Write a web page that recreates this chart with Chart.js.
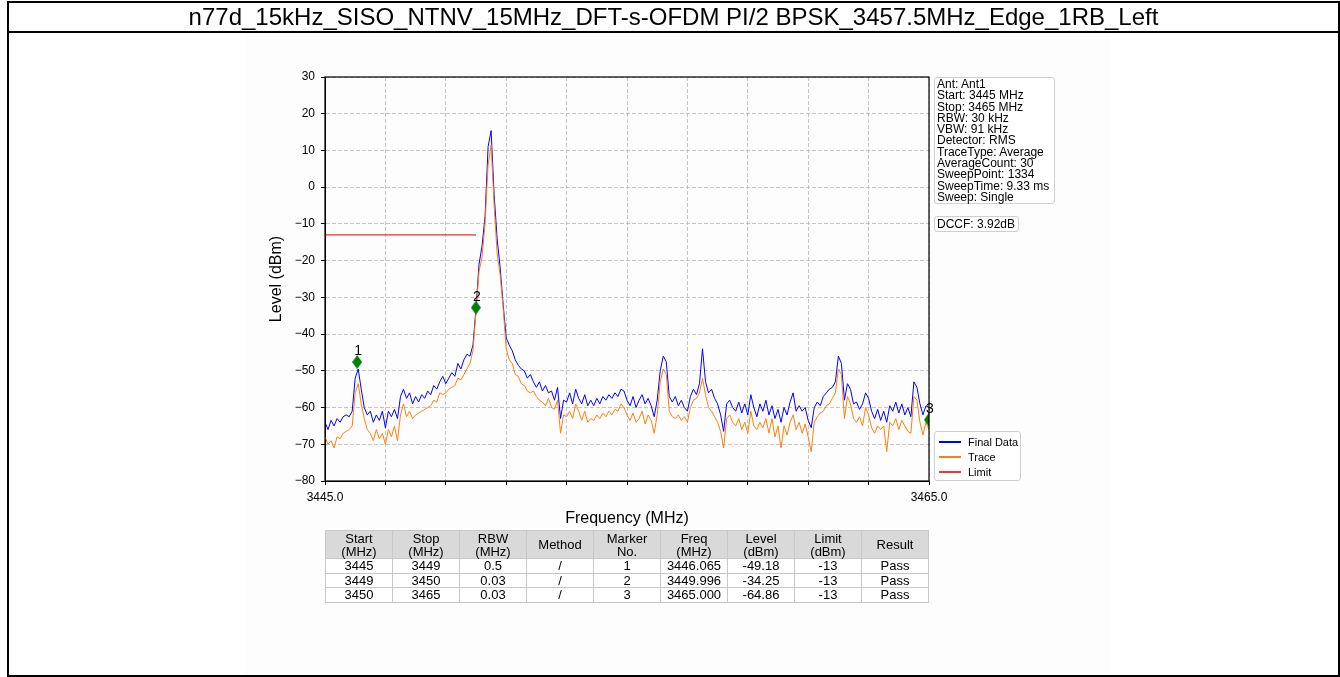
<!DOCTYPE html>
<html><head><meta charset="utf-8">
<script src="https://cdn.jsdelivr.net/npm/chart.js@4.4.1/dist/chart.umd.min.js"></script>
<style>
html,body{margin:0;padding:0;background:#fff;overflow:hidden;}
body{width:1340px;height:677px;position:relative;font-family:"Liberation Sans",Arial,sans-serif;color:#000;}
#imgbg{position:absolute;left:245px;top:33px;width:865px;height:642px;background:#fdfdfd;}
#cv{position:absolute;left:0;top:0;}
.fr{position:absolute;background:#000;}
#title{position:absolute;left:9px;width:1329px;top:3px;height:28px;line-height:28px;text-align:center;font-size:24px;white-space:nowrap;}
.box{position:absolute;border:1px solid #cfcfcf;border-radius:3px;background:#fff;box-sizing:border-box;}
#info{left:934px;top:77px;width:121px;height:127px;font-size:12px;line-height:11.3px;padding:1px 0 0 2px;white-space:pre;}
#dccf{left:934px;top:216px;width:85px;height:16px;font-size:12px;line-height:14px;padding-left:2px;white-space:nowrap;}
#legend{left:934px;top:431px;width:87px;height:50px;font-size:11px;}
.lg{position:absolute;left:4px;height:14px;line-height:14px;white-space:nowrap;}
.lg span{display:inline-block;width:22px;height:1.5px;vertical-align:middle;margin-right:7px;position:relative;top:-1px;}
#tbl{position:absolute;left:325px;top:530px;border-collapse:collapse;font-size:13px;table-layout:fixed;}
#tbl td,#tbl th{border:1px solid #c8c8c8;text-align:center;padding:0;font-weight:normal;width:66px;}
#tbl th{background:#d9d9d9;height:27px;line-height:13px;}
#tbl td{height:13.5px;line-height:13px;background:#fff;}
</style></head>
<body>
<div id="imgbg"></div>
<canvas id="cv" width="1340" height="677"></canvas>
<div class="fr" style="left:7px;top:1px;width:1333px;height:2px"></div>
<div class="fr" style="left:7px;top:31px;width:1333px;height:2px"></div>
<div class="fr" style="left:7px;top:675px;width:1333px;height:2px"></div>
<div class="fr" style="left:7px;top:1px;width:2px;height:676px"></div>
<div class="fr" style="left:1338px;top:1px;width:2px;height:676px"></div>
<div id="title"></div>
<div id="info" class="box"></div>
<div id="dccf" class="box"></div>
<div id="legend" class="box"></div>
<table id="tbl"></table>
<script>
const chartTitle = "n77d_15kHz_SISO_NTNV_15MHz_DFT-s-OFDM PI/2 BPSK_3457.5MHz_Edge_1RB_Left";
const infoLines = ["Ant: Ant1","Start: 3445 MHz","Stop: 3465 MHz","RBW: 30 kHz","VBW: 91 kHz","Detector: RMS","TraceType: Average","AverageCount: 30","SweepPoint: 1334","SweepTime: 9.33 ms","Sweep: Single"];
const dccfText = "DCCF: 3.92dB";

const freqs = [
3445.0,3445.1,3445.2,3445.3,3445.4,3445.5,3445.6,3445.7,3445.8,3445.9,
3446.0,3446.1,3446.2,3446.3,3446.4,3446.5,3446.6,3446.7,3446.8,3446.9,
3447.0,3447.1,3447.2,3447.3,3447.4,3447.5,3447.6,3447.7,3447.8,3447.9,
3448.0,3448.1,3448.2,3448.3,3448.4,3448.5,3448.6,3448.7,3448.8,3448.9,
3449.0,3449.1,3449.2,3449.3,3449.4,3449.5,3449.6,3449.7,3449.8,3449.9,
3450.0,3450.1,3450.2,3450.3,3450.4,3450.5,3450.6,3450.7,3450.8,3450.9,
3451.0,3451.1,3451.2,3451.3,3451.4,3451.5,3451.6,3451.7,3451.8,3451.9,
3452.0,3452.1,3452.2,3452.3,3452.4,3452.5,3452.6,3452.7,3452.8,3452.9,
3453.0,3453.1,3453.2,3453.3,3453.4,3453.5,3453.6,3453.7,3453.8,3453.9,
3454.0,3454.1,3454.2,3454.3,3454.4,3454.5,3454.6,3454.7,3454.8,3454.9,
3455.0,3455.1,3455.2,3455.3,3455.4,3455.5,3455.6,3455.7,3455.8,3455.9,
3456.0,3456.1,3456.2,3456.3,3456.4,3456.5,3456.6,3456.7,3456.8,3456.9,
3457.0,3457.1,3457.2,3457.3,3457.4,3457.5,3457.6,3457.7,3457.8,3457.9,
3458.0,3458.1,3458.2,3458.3,3458.4,3458.5,3458.6,3458.7,3458.8,3458.9,
3459.0,3459.1,3459.2,3459.3,3459.4,3459.5,3459.6,3459.7,3459.8,3459.9,
3460.0,3460.1,3460.2,3460.3,3460.4,3460.5,3460.6,3460.7,3460.8,3460.9,
3461.0,3461.1,3461.2,3461.3,3461.4,3461.5,3461.6,3461.7,3461.8,3461.9,
3462.0,3462.1,3462.2,3462.3,3462.4,3462.5,3462.6,3462.7,3462.8,3462.9,
3463.0,3463.1,3463.2,3463.3,3463.4,3463.5,3463.6,3463.7,3463.8,3463.9,
3464.0,3464.1,3464.2,3464.3,3464.4,3464.5,3464.6,3464.7,3464.8,3464.9,
3465.0];

const finalData = [
-64,-66,-63.5,-65,-63,-64,-62.5,-62,-62.5,-61,
-52,-49.5,-55,-60,-62,-61,-64,-62,-63.5,-61,
-65.5,-61,-62.5,-60.5,-63,-57,-55,-57.5,-56,-59,
-57,-58.5,-56.5,-57.5,-55.5,-56.5,-54,-55,-53,-51.5,
-53.5,-52,-50.5,-51.5,-48,-49.5,-47,-45.5,-46,-43,
-33,-21,-16,-8,11,15.4,-2,-14,-22,-32,
-41,-43,-44.5,-47,-48.5,-49.5,-50,-52,-51,-53,
-54.5,-53,-55.5,-54,-56,-55.5,-58,-54.5,-63,-58,
-58.5,-56,-59,-55,-57.5,-59,-56.5,-59.5,-58,-59.5,
-57.5,-59,-57,-58,-56.5,-57.5,-56,-57,-55,-55.5,
-58,-59.5,-57,-60,-58,-56.5,-59,-57.5,-59.5,-62.5,
-58,-50,-46,-47.5,-57,-58.5,-57,-59.5,-58,-60,
-61,-57,-55,-56.5,-53.5,-44,-53,-56,-55,-57.5,
-59,-62,-66.5,-59,-58,-60,-61,-58.5,-61.5,-59,
-62,-56.5,-60,-62.5,-59,-61,-58,-62,-59.5,-63,
-60.5,-64,-60,-62,-58.5,-56,-61,-59.5,-61,-60,
-63.5,-65.5,-60,-58.5,-59.5,-57,-56,-55,-54.5,-53,
-46,-48,-58,-53.5,-55,-59,-58.5,-60.5,-59,-56,
-57.5,-61,-63,-60.5,-63.5,-61,-64,-59.5,-61,-58.5,
-61.5,-59,-62,-60,-62.5,-53,-54.5,-59,-62,-59.5,
-60];

const traceData = [
-68,-70,-69,-71,-68,-68.5,-67,-66.5,-66,-65,
-56,-53.5,-59,-63,-66,-67,-69,-66,-68.5,-67,
-70,-66,-68,-65,-69,-62,-59,-62.5,-61,-63,
-62,-61.5,-61,-60.5,-60,-59.5,-58,-58.5,-56,-56.5,
-56,-55,-54.5,-54,-52,-52.5,-51,-49.5,-48,-44.5,
-34,-23,-19,-10,6,11.5,-5,-18,-24,-33,
-44,-47,-48,-51,-51.5,-53.5,-54,-55.5,-56,-55.5,
-57,-58,-58.5,-59.5,-57.5,-60,-60.5,-58,-67,-62,
-62.5,-61,-63,-59,-61,-63.5,-61,-64,-63,-63.5,
-62,-63,-61.5,-62.5,-61,-62,-60.5,-61,-59,-60,
-62,-63.5,-61.5,-64,-63,-61,-64.5,-62,-63.5,-67,
-62,-53,-49.5,-51,-61,-62.5,-63,-62,-63.5,-62.5,
-64,-60,-58,-57.5,-56,-52,-56.5,-60,-61,-62.5,
-64,-66.5,-71,-63,-62,-64,-65,-63,-66,-64,
-67,-61,-65,-66,-64,-65.5,-63,-67,-63,-68,
-65,-71,-65,-67.5,-64,-62,-66,-64,-67,-64.5,
-68,-72,-64,-62.5,-61.5,-61,-59.5,-59,-57.5,-56,
-49.5,-51,-63,-57,-59,-63,-64,-62.5,-65,-60,
-62,-65.5,-67,-65,-66,-65,-72,-64,-65,-63,
-66,-63.5,-65,-66.5,-67,-57,-58,-64,-67.5,-64,
-66];

const limitFreq = [3445, 3450];
const limitLevel = [-13, -13];

const markerNo = ["1", "2", "3"];
const markerFreq = [3446.065, 3449.996, 3465.0];
const markerLevel = [-47.6, -32.8, -63.3];

const xTickLabels = ["3445.0", "3465.0"];

const tableHeader = ["Start<br>(MHz)","Stop<br>(MHz)","RBW<br>(MHz)","Method","Marker<br>No.","Freq<br>(MHz)","Level<br>(dBm)","Limit<br>(dBm)","Result"];
const rowStart = ["3445","3449","3450"];
const rowStop = ["3449","3450","3465"];
const rowRbw = ["0.5","0.03","0.03"];
const rowMethod = ["/","/","/"];
const rowMarker = ["1","2","3"];
const rowFreq = ["3446.065","3449.996","3465.000"];
const rowLevel = ["-49.18","-34.25","-64.86"];
const rowLimit = ["-13","-13","-13"];
const rowResult = ["Pass","Pass","Pass"];

const legendItems = [["Final Data","#0000ff"],["Trace","#ff7f0e"],["Limit","#ff3030"]];

// ---- HTML parts ----
document.getElementById('title').textContent = chartTitle;
document.getElementById('info').textContent = infoLines.join("\n");
document.getElementById('dccf').textContent = dccfText;
const lg = document.getElementById('legend');
legendItems.forEach((it, i) => {
  const d = document.createElement('div');
  d.className = 'lg';
  d.style.top = (3 + i * 15) + 'px';
  const sw = document.createElement('span');
  sw.style.background = it[1];
  d.appendChild(sw);
  d.appendChild(document.createTextNode(it[0]));
  lg.appendChild(d);
});
let html = '<tr>' + tableHeader.map(h => '<th>' + h + '</th>').join('') + '</tr>';
for (let r = 0; r < rowStart.length; r++) {
  const cells = [rowStart[r], rowStop[r], rowRbw[r], rowMethod[r], rowMarker[r], rowFreq[r], rowLevel[r], rowLimit[r], rowResult[r]];
  html += '<tr>' + cells.map(c => '<td>' + c + '</td>').join('') + '</tr>';
}
document.getElementById('tbl').innerHTML = html;

// ---- Chart ----
const FONT = '"Liberation Sans", Arial, sans-serif';
function diamond() {
  const c = document.createElement('canvas');
  c.width = 10; c.height = 14;
  const g = c.getContext('2d');
  g.fillStyle = '#008000';
  g.beginPath(); g.moveTo(5, 0); g.lineTo(10, 7); g.lineTo(5, 14); g.lineTo(0, 7); g.closePath(); g.fill();
  return c;
}
const framePlugin = {
  id: 'frame',
  afterDraw(c) {
    const a = c.chartArea, g = c.ctx;
    g.save(); g.strokeStyle = '#000'; g.lineWidth = 1.2;
    g.strokeRect(a.left, a.top, a.right - a.left, a.bottom - a.top);
    g.restore();
  }
};
const markerLabelPlugin = {
  id: 'mlabels',
  afterDatasetsDraw(c) {
    const g = c.ctx, x = c.scales.x, y = c.scales.y;
    g.save();
    g.font = '14px ' + FONT; g.fillStyle = '#000'; g.textAlign = 'center'; g.textBaseline = 'bottom';
    markerNo.forEach((n, i) => {
      g.fillText(n, x.getPixelForValue(markerFreq[i]) + 1, y.getPixelForValue(markerLevel[i]) - 4);
    });
    g.restore();
  }
};
const pts = (xs, ys) => xs.map((v, i) => ({x: v, y: ys[i]}));
new Chart(document.getElementById('cv'), {
  type: 'line',
  data: {
    datasets: [
      {label: 'Markers', data: pts(markerFreq, markerLevel), showLine: false, pointStyle: diamond(), pointRadius: 7, borderWidth: 0, order: 0},
      {label: 'Limit', data: pts(limitFreq, limitLevel), borderColor: 'rgba(255,0,0,0.85)', borderWidth: 1.3, pointRadius: 0, order: 1},
      {label: 'Trace', data: pts(freqs, traceData), borderColor: '#ff7f0e', borderWidth: 1, pointRadius: 0, tension: 0, order: 2},
      {label: 'Final Data', data: pts(freqs, finalData), borderColor: '#0000ff', borderWidth: 1, pointRadius: 0, tension: 0, order: 3}
    ]
  },
  options: {
    responsive: false, animation: false, devicePixelRatio: 1,
    layout: {padding: {left: 265, right: 411, top: 77, bottom: 149}},
    plugins: {legend: {display: false}, tooltip: {enabled: false}},
    scales: {
      x: {
        type: 'linear', min: 3445, max: 3465,
        ticks: {stepSize: 2, autoSkip: false, maxRotation: 0, color: '#000', padding: 5, font: {family: FONT, size: 12},
          callback: v => { const s = Number(v).toFixed(1); return xTickLabels.includes(s) ? s : ''; }},
        grid: {color: '#b8b8b8', lineWidth: 0.8, tickColor: '#000', tickLength: 4, tickWidth: 1},
        border: {display: true, color: '#000', width: 1, dash: [4, 2]},
        title: {display: true, text: 'Frequency (MHz)', color: '#000', font: {family: FONT, size: 16}, padding: {top: 0, bottom: 0}},
        afterFit: s => { s.height = 47; }
      },
      y: {
        min: -80, max: 30,
        ticks: {stepSize: 10, color: '#000', padding: 6, font: {family: FONT, size: 12},
          callback: v => String(v).replace('-', '\u2212')},
        grid: {color: '#b8b8b8', lineWidth: 0.8, tickColor: '#000', tickLength: 4, tickWidth: 1},
        border: {display: true, color: '#000', width: 1, dash: [4, 2]},
        title: {display: true, text: 'Level (dBm)', color: '#000', font: {family: FONT, size: 16}, padding: {top: 2, bottom: 0}},
        afterFit: s => { s.width = 60; }
      }
    }
  },
  plugins: [framePlugin, markerLabelPlugin]
});
</script>
</body></html>
